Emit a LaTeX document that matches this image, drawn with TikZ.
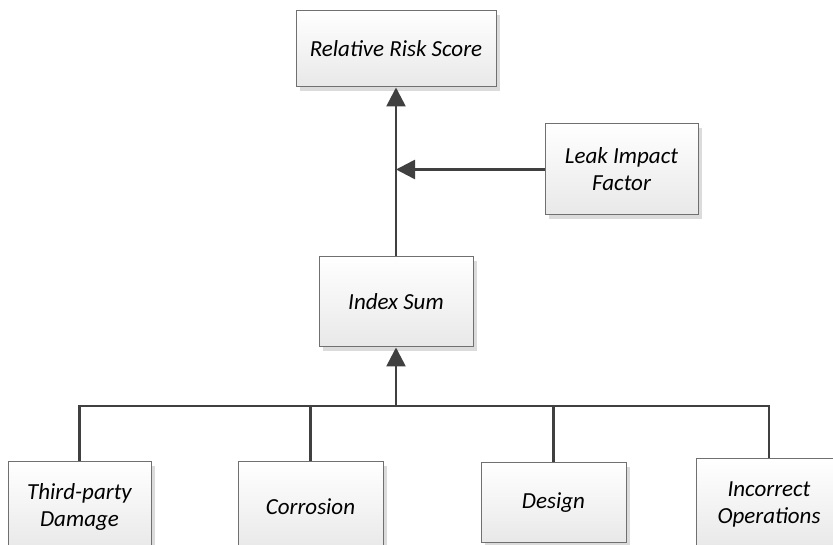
\documentclass[tikz,border=0pt]{standalone}
\usepackage{fontspec}
\setmainfont{Carlito}
\usetikzlibrary{arrows.meta,shadows}
\definecolor{linegray}{HTML}{404040}
\definecolor{boxgray}{HTML}{707070}
\tikzset{
 rs box/.style={draw=boxgray,line width=1pt,rectangle,
                top color=white,bottom color=black!9,
                drop shadow={shadow xshift=4pt,shadow yshift=-4pt,
                             fill=black!14,opacity=1},
                align=center,font=\fontsize{23}{27}\selectfont\itshape,
                inner sep=0pt},
 rs link/.style={line width=2.6pt,draw=linegray,
                 -{Triangle[length=19pt,width=19pt]}},
 rs bus/.style={line width=2.3pt,draw=linegray}
}
\begin{document}
\begin{tikzpicture}[x=1pt,y=1pt]
 \useasboundingbox (0,0) rectangle (833,545);
 \clip (0,0) rectangle (833,545);

 \node[rs box,minimum width=200,minimum height=76] (risk) at (396,496) {Relative Risk Score};
 \node[rs box,minimum width=153,minimum height=91] (leak) at (621.5,375.5) {Leak Impact\\Factor};
 \node[rs box,minimum width=154,minimum height=90] (idx) at (396,243) {Index Sum};

 \node[rs box,minimum width=143,minimum height=90] (tpd) at (79.5,38) {Third-party\\Damage};
 \node[rs box,minimum width=145,minimum height=90] (cor) at (310.5,38) {Corrosion};
 \node[rs box,minimum width=145,minimum height=80] (des) at (553.5,42) {Design};
 \node[rs box,minimum width=146,minimum height=90] (inc) at (769,41) {Incorrect\\Operations};

 \coordinate (bus) at (396,139);

 \draw[rs bus] (tpd.north) |- (bus) -| (inc.north);
 \draw[rs bus] (cor.north) -- (cor.north |- bus);
 \draw[rs bus] (des.north) -- (des.north |- bus);

 \draw[rs link] (bus) -- (idx.south);
 \draw[rs link] (idx.north) -- (risk.south);
 \draw[rs link] (leak.west) -- (leak.west -| idx.north);
\end{tikzpicture}
\end{document}
